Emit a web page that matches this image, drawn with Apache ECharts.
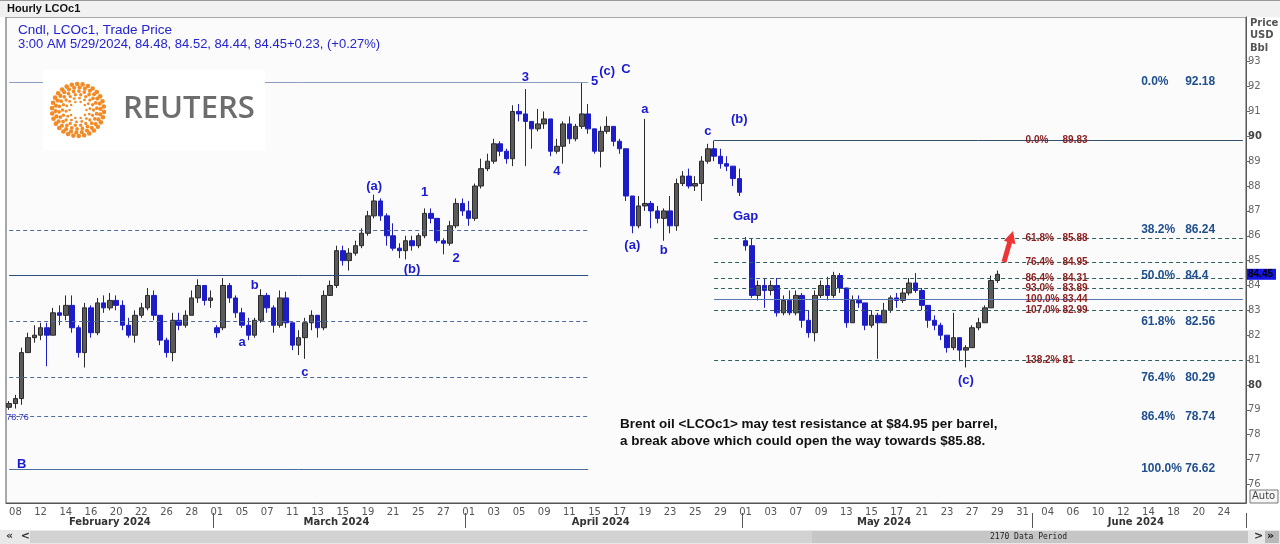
<!DOCTYPE html>
<html><head><meta charset="utf-8">
<script src="https://cdn.jsdelivr.net/npm/echarts@6/dist/echarts.min.js"></script>
<style>html,body{margin:0;padding:0;background:#fff;}#c{width:1280px;height:544px;}</style>
</head><body><div id="c"></div><script>
// ---- trading days shown on the axis (one category per half-day) ----
const febDays=[8,9,12,13,14,15,16,19,20,21,22,23,26,27,28,29];
const marDays=[1,4,5,6,7,8,11,12,13,14,15,18,19,20,21,22,25,26,27,28];
const aprDays=[1,2,3,4,5,8,9,10,11,12,15,16,17,18,19,22,23,24,25,26,29,30];
const mayDays=[1,2,3,6,7,8,9,10,13,14,15,16,17,20,21,22,23,24,27,28,29,30,31];
const junDays=[3,4,5,6,7,10,11,12,13,14,17,18,19,20,21,24,25];
const monthNames=['February 2024','March 2024','April 2024','May 2024','June 2024'];
// ---- half-day price bars, LCOc1 ----
const opens=[79.1,79.25,79.45,81.3,81.9,82.0,82.3,82.0,82.9,82.8,
83.2,82.3,81.3,83.1,82.1,83.3,83.1,83.4,83.2,82.4,
82.0,82.8,83.1,83.6,82.8,81.8,81.3,82.6,82.4,82.8,
83.5,84.0,83.4,82.3,82.3,84.0,83.5,82.9,82.4,82.0,
82.6,83.6,83.1,82.4,83.5,82.5,81.6,81.9,82.5,82.8,
82.3,83.6,84.0,85.4,85.0,85.3,85.6,86.1,86.8,87.4,
86.8,86.0,85.5,85.4,85.8,85.6,86.0,86.9,86.7,85.8,
85.7,86.4,87.3,87.0,86.7,88.0,88.7,89.0,89.7,89.4,
89.1,91.0,90.9,90.6,90.3,90.5,90.7,89.4,89.6,90.5,
89.9,90.4,90.9,90.3,89.4,90.2,90.4,89.8,89.5,87.6,
86.4,87.2,87.3,87.0,86.7,87.0,86.4,88.1,88.4,88.0,
88.1,89.0,89.5,89.2,88.9,88.8,88.3,85.8,85.6,83.6,
84.0,83.8,84.0,82.9,83.4,82.9,83.6,82.6,82.1,83.6,
84.0,83.6,84.4,83.9,82.5,83.4,83.3,82.4,82.8,82.5,
83.0,83.5,83.4,83.7,84.1,83.8,83.2,82.6,82.4,82.0,
81.5,81.9,81.4,81.5,82.3,82.5,83.1,84.2];
const closes=[79.25,79.45,81.3,81.9,82.0,82.3,82.0,82.9,82.8,83.2,
82.3,81.3,83.1,82.1,83.3,83.1,83.4,83.2,82.4,82.0,
82.8,83.1,83.6,82.8,81.8,81.3,82.6,82.4,82.8,83.5,
84.0,83.4,83.5,82.1,84.0,83.5,82.9,82.4,82.0,82.6,
83.6,83.1,82.4,83.5,82.5,81.6,81.9,82.5,82.8,82.3,
83.6,84.0,85.4,85.0,85.3,85.6,86.1,86.8,87.4,86.8,
86.0,85.5,85.4,85.8,85.6,86.0,86.9,86.7,85.8,85.7,
86.4,87.3,87.0,86.7,88.0,88.7,89.0,89.7,89.4,89.1,
91.0,90.9,90.6,90.3,90.5,90.7,89.4,89.6,90.5,89.9,
90.4,90.9,90.3,89.4,90.2,90.4,89.8,89.5,87.6,86.4,
87.2,87.3,87.0,86.7,87.0,86.4,88.1,88.4,88.0,88.1,
89.0,89.5,89.2,88.9,88.8,88.3,87.75,85.6,83.6,84.0,
83.8,84.0,82.9,83.4,82.9,83.6,82.6,82.1,83.6,84.0,
83.6,84.4,83.9,82.5,83.4,83.3,82.4,82.8,82.5,83.0,
83.5,83.4,83.7,84.1,83.8,83.2,82.6,82.4,82.0,81.5,
81.9,81.4,81.5,82.3,82.5,83.1,84.2,84.45];
const lows=[79.0,79.05,79.2,81.3,81.7,81.8,80.75,82.0,82.4,82.6,
82.1,81.1,80.7,81.9,82.0,82.9,83.0,83.0,82.2,81.9,
81.7,82.7,83.0,82.6,81.6,81.1,80.95,82.2,82.3,82.8,
83.3,83.2,83.1,81.9,82.2,83.3,82.7,82.3,81.8,81.9,
82.5,82.9,82.1,82.3,82.3,81.4,81.2,81.05,82.2,81.9,
82.2,83.6,83.9,84.8,84.6,85.2,85.5,86.0,86.7,86.6,
85.6,85.4,85.1,85.05,85.4,85.5,85.9,86.5,85.7,85.25,
85.6,86.3,86.8,86.4,86.6,87.9,88.6,88.9,89.2,88.9,
88.8,90.6,88.8,89.5,90.2,90.3,89.2,89.3,88.9,89.7,
89.8,90.3,90.1,89.3,88.75,90.1,89.6,89.3,87.4,86.1,
86.3,87.0,86.3,86.5,85.8,86.1,86.2,88.0,87.9,87.8,
87.4,88.9,89.0,88.7,88.6,88.0,87.6,85.4,83.5,83.4,
83.1,83.6,82.75,82.8,82.8,82.8,82.3,81.9,81.75,83.5,
83.4,83.5,83.7,82.3,82.5,83.1,82.2,82.3,81.05,82.5,
82.9,83.1,83.3,83.6,83.7,83.0,82.3,82.2,81.8,81.3,
81.4,80.95,80.7,81.5,82.2,82.5,83.1,84.1];
const highs=[79.35,79.6,81.5,82.1,82.4,82.5,82.5,83.1,83.2,83.6,
83.6,82.4,83.3,83.2,83.5,83.6,83.7,83.6,83.4,82.7,
83.0,83.3,83.9,83.8,82.8,81.9,82.9,82.9,83.0,83.8,
84.25,84.0,83.8,82.4,84.3,84.1,83.6,83.1,82.7,82.7,
83.85,83.7,83.2,83.8,83.75,82.5,82.2,82.7,83.0,82.8,
83.8,84.2,85.6,85.6,85.5,85.8,86.3,87.0,87.65,87.5,
86.9,86.5,85.7,86.0,86.0,86.1,87.1,87.1,86.7,85.9,
86.6,87.5,87.5,87.4,88.1,89.1,89.3,89.9,89.8,89.5,
91.25,91.3,91.9,90.6,91.1,91.0,90.7,89.9,90.6,90.8,
90.5,92.18,91.3,90.3,90.4,90.8,90.4,89.9,89.5,87.6,
87.6,90.7,87.4,87.2,87.1,87.6,88.3,88.6,88.7,88.4,
89.2,89.7,89.83,89.5,89.2,88.8,88.7,85.95,85.9,84.2,
84.3,84.2,84.3,83.6,83.8,83.8,83.7,83.0,83.8,84.2,
84.35,84.55,84.5,83.9,83.6,83.6,83.3,83.0,82.9,83.3,
83.6,83.7,83.9,84.3,84.5,83.9,83.2,82.8,82.5,82.0,
82.9,81.9,81.6,82.4,82.7,83.2,84.4,84.6];
const lastPrice=84.45;
const yTicks=[76,77,78,79,80,81,82,83,84,85,86,87,88,89,90,91,92,93];
// ---- Fibonacci levels ----
const fibLeftPct=['0.0%','38.2%','50.0%','61.8%','76.4%','86.4%','100.0%'];
const fibLeftVal=[92.18,86.24,84.4,82.56,80.29,78.74,76.62];
const fibRightPct=['0.0%','61.8%','76.4%','86.4%','93.0%','100.0%','107.0%','138.2%'];
const fibRightVal=[89.83,85.88,84.95,84.31,83.89,83.44,82.99,81];
// ---- wave labels: text, half-day slot, price ----
const waveText=['3','5','(c)','C','a','c','(b)','4','(a)','1','(b)','2','b','a','c','(a)','b','Gap','(c)','B'];
const waveSlot=[82,93,95,98,101,111,116,87,58,66,64,71,39,37,47,99,104,117,152,2];
const wavePrice=[92.36,92.2,92.6,92.7,91.07,90.2,90.67,88.6,88.0,87.73,84.63,85.08,84.0,81.7,80.5,85.6,85.4,86.76,80.2,76.79];
const lowLabel='78.76';

// ---------- build categories ----------
const allMonths=[febDays,marDays,aprDays,mayDays,junDays];
const cats=['07'];
const monthStart=[], monthMid=[];
allMonths.forEach((days,mi)=>{
  const s0=cats.length;
  if(mi>0) monthStart.push(s0);
  days.forEach(d=>{const s=String(d).padStart(2,'0');cats.push(s,s);});
  const s1=cats.length-1;
  monthMid.push(Math.floor(((mi===0?0:s0)+s1)/2));
});
const candle=opens.map((o,i)=>[o,closes[i],lows[i],highs[i]]);
const leftEnd=92, rightStart=112, rightEnd=cats.length-1;
const leftSolid=[true,false,true,false,false,false,true];
const leftColor=['#8c9dbf','#4d6d9d','#2c4c7c','#4d6d9d','#4d6d9d','#4d6d9d','#4d6d9d'];
const rightSolid=[true,false,false,false,false,true,false,false];
const rightColor=['#34506e','#2f5f5f','#2f5f5f','#2f5f5f','#2f5f5f','#5575b5','#2f5f5f','#2f5f5f'];
const markLines=[];
fibLeftVal.forEach((v,i)=>markLines.push([{coord:[0,v],lineStyle:{color:leftColor[i],type:leftSolid[i]?'solid':[4,3],width:1}},{coord:[leftEnd,v]}]));
fibRightVal.forEach((v,i)=>markLines.push([{coord:[rightStart,v],lineStyle:{color:rightColor[i],type:rightSolid[i]?'solid':[4,3],width:1}},{coord:[rightEnd,v]}]));

const waveData=waveText.map((t,i)=>[waveSlot[i],wavePrice[i],t]);
const fibLeftData=fibLeftVal.map((v,i)=>[180,v,fibLeftPct[i],String(v)]);
const fibRightData=fibRightVal.map((v,i)=>[161,v,fibRightPct[i],String(v)]);

// Reuters sunburst dots (decoration)
const dots=[];
const rings=[[8.5,10],[12,14],[15.5,18],[19,22],[22.5,26],[26,30]];
rings.forEach(([r,n],k)=>{for(let j=0;j<n;j++){const a=j/n*Math.PI*2+k*0.35;dots.push({type:'circle',z:101,shape:{cx:78+r*Math.cos(a),cy:110+r*Math.sin(a),r:0.7+r*0.062},style:{fill:'#f28a26'}});}});

const txtSeries=(data,label)=>({type:'scatter',data,symbolSize:1,z:5,silent:true,
  itemStyle:{color:'rgba(0,0,0,0)',opacity:1},emphasis:{disabled:true},label:Object.assign({show:true,position:'inside'},label)});

const chart=echarts.init(document.getElementById('c'),null,{renderer:'canvas'});
chart.setOption({
  animation:false,
  backgroundColor:'#ffffff',
  grid:{left:6,right:34,top:17,bottom:41,show:true,backgroundColor:'#fbfbfb',borderColor:'#555',borderWidth:1},
  xAxis:[{
    type:'category',data:cats,boundaryGap:true,
    axisLine:{lineStyle:{color:'#555'}},
    axisTick:{interval:(i)=>i%4===1,length:3,lineStyle:{color:'#666'}},
    axisLabel:{interval:(i)=>i%4===1,color:'#555',fontSize:10,margin:4,fontFamily:'DejaVu Sans'},
    splitLine:{show:false}
  },{
    type:'category',data:cats,boundaryGap:true,position:'bottom',offset:10,
    axisLine:{show:false},
    axisTick:{show:true,interval:(i)=>monthStart.includes(i),length:15,lineStyle:{color:'#555'}},
    axisLabel:{interval:(i)=>monthMid.includes(i),formatter:(v,i)=>monthNames[monthMid.indexOf(i)],color:'#333',fontSize:10,fontWeight:'bold',margin:4,fontFamily:'DejaVu Sans'},
    splitLine:{show:false}
  }],
  yAxis:[{
    type:'value',position:'right',min:75.25,max:94.8,
    axisLine:{show:true,lineStyle:{color:'#555'}},
    axisTick:{show:true,customValues:yTicks,length:4,lineStyle:{color:'#666'}},
    axisLabel:{customValues:yTicks,color:'#666',fontSize:10,margin:2,fontFamily:'DejaVu Sans',
      formatter:(v)=>v%10===0?'{b|'+v+'}':String(v),rich:{b:{fontWeight:'bold',color:'#444',fontSize:10,fontFamily:'DejaVu Sans'}}},
    splitLine:{show:false}
  },{
    type:'value',position:'right',min:75.25,max:94.8,
    axisLine:{show:false},axisTick:{show:false},splitLine:{show:false},
    axisLabel:{customValues:[lastPrice],margin:1,color:'#000',fontSize:10,fontWeight:'bold',fontFamily:'Liberation Sans',
      backgroundColor:'#1414e6',padding:[1,3,0,1]}
  }],
  series:[{
    type:'candlestick',data:candle,barWidth:5,
    itemStyle:{color:'#5a5a5a',color0:'#1c1cc8',borderColor:'#2a2a2a',borderColor0:'#1c1cc8',borderWidth:1},
    markLine:{symbol:['none','none'],silent:true,label:{show:false},data:markLines}
  },
  txtSeries(waveData,{formatter:p=>p.value[2],color:'#1a1ad2',fontSize:13,fontWeight:'bold',fontFamily:'Liberation Sans'}),
  txtSeries(fibLeftData,{align:'left',offset:[-1,0],formatter:p=>'{p|'+p.value[2]+'}{v|'+p.value[3]+'}',
      rich:{p:{width:44,color:'#1f4f8f',fontSize:12,fontWeight:'bold',fontFamily:'Liberation Sans'},v:{color:'#1f4f8f',fontSize:12,fontWeight:'bold',fontFamily:'Liberation Sans'}}}),
  txtSeries(fibRightData,{align:'left',offset:[3,0],formatter:p=>'{p|'+p.value[2]+'}{v|'+p.value[3]+'}',
      rich:{p:{width:37,color:'#8b1c1c',fontSize:10,fontWeight:'bold',fontFamily:'Liberation Sans'},v:{color:'#8b1c1c',fontSize:10,fontWeight:'bold',fontFamily:'Liberation Sans'}}}),
  txtSeries([[0,78.74,lowLabel]],{align:'left',offset:[-3,1],formatter:p=>p.value[2],color:'#3030c8',fontSize:9,fontFamily:'Liberation Sans'})
  ],
  graphic:[
    {type:'rect',z:0,shape:{x:0,y:0,width:1280,height:17},style:{fill:'#f1f1f1'}},
    {type:'line',z:1,shape:{x1:0,y1:0.5,x2:1280,y2:0.5},style:{stroke:'#999'}},
    {type:'text',z:100,left:7,top:3,style:{text:'Hourly LCOc1',fill:'#111',font:'bold 11px "Liberation Sans"'}},
    {type:'text',z:100,left:18,top:23,style:{text:'Cndl, LCOc1, Trade Price',fill:'#2323d0',font:'13.5px "Liberation Sans"'}},
    {type:'text',z:100,left:18,top:38,style:{text:'3:00 AM 5/29/2024, 84.48, 84.52, 84.44, 84.45+0.23, (+0.27%)',fill:'#2323d0',font:'13px "Liberation Sans"'}},
    {type:'rect',z:100,shape:{x:43,y:70,width:222,height:80},style:{fill:'#ffffff'}},
    ...dots,
    {type:'circle',z:102,shape:{cx:78,cy:110,r:5.5},style:{fill:'#fff'}},
    {type:'text',z:102,left:123,top:94,style:{text:'REUTERS',fill:'#6d6d6d',font:'600 31px "Open Sans"'}},
    {type:'text',z:100,left:620,top:416,style:{text:'Brent oil <LCOc1> may test resistance at $84.95 per barrel,\na break above which could open the way towards $85.88.',fill:'#111',font:'bold 13.5px "Liberation Sans"',lineHeight:17}},
    {type:'polygon',z:100,shape:{points:[[1001.6,261.3],[1007.2,241.8],[1003.9,240.8],[1013,231],[1015.4,244.2],[1012,243.2],[1006.4,262.7]]},style:{fill:'#ee3535'}},
    {type:'text',z:100,left:1250,top:17,style:{text:'Price\nUSD\nBbl',fill:'#555',font:'bold 10px "DejaVu Sans"',lineHeight:12.5}},
    {type:'rect',z:100,shape:{x:1250,y:490,width:28,height:13},style:{fill:'#f6f6f6',stroke:'#777'}},
    {type:'text',z:101,left:1252,top:491,style:{text:'Auto',fill:'#444',font:'10px "DejaVu Sans"'}},
    {type:'rect',z:100,shape:{x:0,y:530,width:1280,height:14},style:{fill:'#e8e8e8'}},
    {type:'rect',z:100,shape:{x:30,y:531,width:1218,height:12},style:{fill:'#d2d2d2'}},
    {type:'rect',z:100,shape:{x:812,y:531,width:436,height:12},style:{fill:'#c6c6c6'}},
    {type:'text',z:101,left:6,top:531,style:{text:'«  <',fill:'#333',font:'bold 11px "DejaVu Sans"'}},
    {type:'text',z:101,left:1254,top:531,style:{text:'>',fill:'#333',font:'bold 11px "DejaVu Sans"'}},
    {type:'rect',z:100,shape:{x:1265,y:531,width:14,height:12},style:{fill:'#b8b8b8'}},
    {type:'text',z:101,left:1267,top:531,style:{text:'»',fill:'#111',font:'bold 11px "DejaVu Sans"'}},
    {type:'text',z:101,left:990,top:533,style:{text:'2170 Data Period',fill:'#222',font:'8px "DejaVu Sans Mono"'}}
  ]
});
</script></body></html>
